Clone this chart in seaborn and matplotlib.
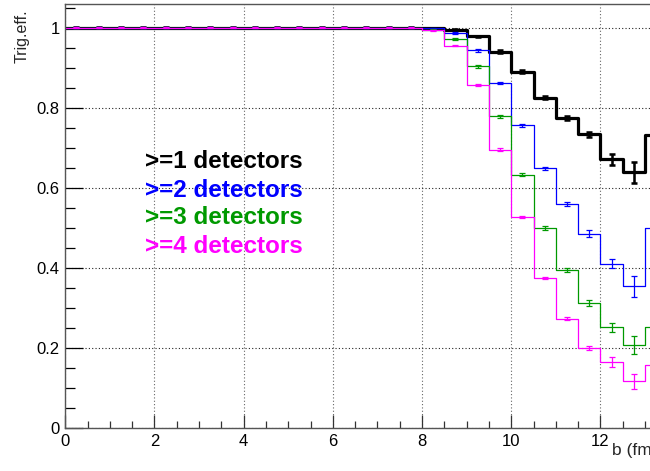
import numpy as np
import pandas as pd
import matplotlib
matplotlib.use("Agg")
import matplotlib.pyplot as plt
import seaborn as sns

# ---- data ----
bin_edges = [i * 0.5 for i in range(28)]  # 0 .. 13.5
flat = [1.0] * 16
black_vals = flat + [0.999, 0.995, 0.978, 0.940, 0.890, 0.825, 0.774, 0.733, 0.671, 0.638, 0.732]
blue_vals = flat + [0.998, 0.986, 0.943, 0.862, 0.756, 0.648, 0.559, 0.485, 0.410, 0.353, 0.499]
green_vals = flat + [0.995, 0.972, 0.903, 0.778, 0.632, 0.499, 0.393, 0.312, 0.251, 0.206, 0.251]
magenta_vals = flat + [0.993, 0.955, 0.857, 0.695, 0.526, 0.374, 0.272, 0.200, 0.164, 0.116, 0.156]

flat_err = [0.001] * 16
black_err = flat_err + [0.001, 0.002, 0.002, 0.003, 0.004, 0.004, 0.005, 0.007, 0.014, 0.027, 0.030]
blue_err = flat_err + [0.001, 0.002, 0.003, 0.003, 0.004, 0.004, 0.005, 0.008, 0.012, 0.027, 0.030]
green_err = flat_err + [0.001, 0.002, 0.003, 0.003, 0.004, 0.004, 0.005, 0.007, 0.011, 0.022, 0.030]
magenta_err = flat_err + [0.001, 0.002, 0.003, 0.003, 0.003, 0.003, 0.004, 0.005, 0.012, 0.019, 0.030]

labels = [">=1 detectors", ">=2 detectors", ">=3 detectors", ">=4 detectors"]
colors = ["#000000", "#0000ff", "#009900", "#ff00ff"]
x_ticks = [0, 2, 4, 6, 8, 10, 12]
y_ticks = [0, 0.2, 0.4, 0.6, 0.8, 1]
y_tick_labels = ["0", "0.2", "0.4", "0.6", "0.8", "1"]

series = [
    (labels[0], black_vals, black_err, colors[0], 2.3),
    (labels[1], blue_vals, blue_err, colors[1], 0.9),
    (labels[2], green_vals, green_err, colors[2], 0.9),
    (labels[3], magenta_vals, magenta_err, colors[3], 0.9),
]

# ---- style ----
sns.set_theme(style="ticks")
plt.rcParams["font.family"] = ["Liberation Sans", "DejaVu Sans"]

fig = plt.figure(figsize=(6.5, 4.71), dpi=100)
ax = fig.add_axes([65.3 / 650, 43.5 / 471, 602 / 650, 423.5 / 471])

edges = np.array(bin_edges)
centers = (edges[:-1] + edges[1:]) / 2

for name, vals, errs, col, lw in series:
    step_df = pd.DataFrame({"x": edges, "y": list(vals) + [vals[-1]]})
    sns.lineplot(data=step_df, x="x", y="y", drawstyle="steps-post",
                 color=col, linewidth=lw, estimator=None, sort=False, ax=ax)
    ax.errorbar(centers, vals, yerr=errs, fmt="none", ecolor=col,
                elinewidth=lw * 0.8 if lw > 1 else lw, capsize=2.5,
                capthick=lw * 0.8 if lw > 1 else lw)

# legend as text
text_y = [0.649, 0.576, 0.509, 0.436]
for name, col, ty in zip(labels, colors, text_y):
    ax.text(1.79, ty, name, color=col, fontsize=17.5, fontweight="bold",
            ha="left", va="baseline")

ax.set_xlim(0, 13.5)
ax.set_ylim(0, 1.059)
ax.set_xticks(x_ticks)
ax.set_xticklabels([str(t) for t in x_ticks])
ax.set_yticks(y_ticks)
ax.set_yticklabels(y_tick_labels)
ax.set_xticks(np.arange(0, 13.51, 0.5), minor=True)
ax.set_yticks(np.arange(0, 1.06, 0.05), minor=True)

ax.tick_params(axis="x", which="major", direction="in", length=9.5, width=0.9,
               colors="#333333", labelcolor="black", labelsize=12, pad=5)
ax.tick_params(axis="x", which="minor", direction="in", length=5, width=0.9,
               colors="#333333")
ax.tick_params(axis="y", which="major", direction="in", length=13, width=0.9,
               colors="#000000", labelcolor="black", labelsize=12, pad=4)
ax.tick_params(axis="y", which="minor", direction="in", length=7, width=0.9,
               colors="#000000")

ax.grid(True, which="major", axis="y", color="#222222", linestyle=(0, (1, 2)), linewidth=0.8)
ax.grid(True, which="major", axis="x", color="#666666", linestyle=(0, (1, 2)), linewidth=0.8)
ax.set_axisbelow(True)

for s in ["left", "bottom", "top"]:
    ax.spines[s].set_color("#555555")
    ax.spines[s].set_linewidth(1.0)
ax.spines["right"].set_visible(False)

ax.set_xlabel("")
ax.set_ylabel("")

fig.text(22 / 650, 1 - 9 / 471, "Trig.eff.", rotation=90, fontsize=11.5,
         ha="center", va="top")
fig.text(611.5 / 650, 16 / 471, "b (fm)", fontsize=12.5, ha="left", va="baseline")

fig.savefig("out.png", dpi=100)
